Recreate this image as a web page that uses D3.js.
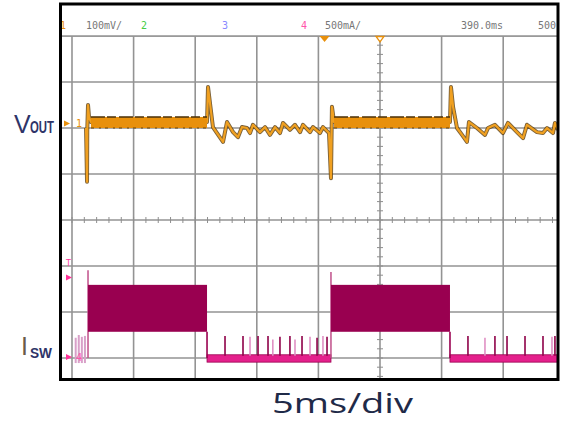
<!DOCTYPE html>
<html><head><meta charset="utf-8">
<script src="https://cdn.jsdelivr.net/npm/d3@7"></script>
<style>body{margin:0;background:#fff}svg{display:block}</style>
</head><body>
<svg id="c" width="561" height="423"></svg>
<script>
// ---- data (time in ms, amplitude in screen divisions) ----
const timeTicks = [0, 5, 10, 15, 20, 25, 30, 35, 40, 45, 50];
const divTicks = [-4, -3, -2, -1, 0, 1, 2, 3, 4];

// VOUT trace (channel 1, 100mV/div)
const voutT = [1.14, 1.22, 1.24, 1.30, 1.38, 1.54, 10.96, 11.04, 11.2, 11.44, 11.77, 12.26, 12.58, 13.07, 13.47, 13.80, 14.2, 14.45, 14.69, 15.26, 15.67, 16.07, 16.48, 16.88, 17.13, 17.69, 18.1, 18.51, 18.75, 19.32, 19.56, 20.13, 20.37, 20.86, 21.02, 21.1, 21.27, 30.68, 30.76, 30.93, 31.25, 31.66, 32.06, 32.22, 32.87, 33.52, 33.77, 34.33, 34.98, 35.39, 36.12, 36.61, 36.93, 37.74, 38.23, 38.56, 39.04, 39.2, 39.45];
const voutV = [2.0, 0.83, 1.96, 2.5, 2.24, 2.13, 2.13, 2.89, 2.54, 2.02, 1.89, 1.70, 2.13, 1.91, 1.80, 2.02, 2.0, 1.89, 2.07, 1.91, 2.02, 1.85, 2.02, 1.89, 2.11, 1.96, 2.07, 1.91, 2.07, 1.91, 2.02, 1.89, 2.02, 1.89, 0.91, 2.46, 2.13, 2.13, 2.89, 2.46, 2.0, 1.85, 1.70, 2.13, 2.0, 1.85, 2.0, 2.07, 1.89, 2.11, 1.91, 1.78, 2.07, 1.91, 1.89, 2.0, 1.89, 2.11, 1.96];
const voutBandStart = [1.54, 21.27];
const voutBandEnd = [10.96, 30.68];
const voutBandHi = [2.24, 2.24];
const voutBandLo = [2.0, 2.0];

// ISW trace (channel 4, 500mA/div)
const iswHighStart = [1.3, 21.02];
const iswHighEnd = [10.96, 30.68];
const iswHighTop = [-1.41, -1.41];
const iswHighBottom = [-2.43, -2.43];
const iswEdgeT = [1.3, 21.02];
const iswEdgeV = [-1.09, -1.13];
const iswLowStart = [10.96, 30.68];
const iswLowEnd = [21.02, 39.6];
const iswLowTop = [-2.93, -2.93];
const iswLowBottom = [-3.09, -3.09];
const iswSpikeT = [12.42, 13.88, 14.45, 15.1, 15.91, 16.3, 16.88, 17.69, 18.1, 18.67, 19.32, 19.89, 20.37, 20.7, 32.14, 33.52, 34.33, 35.31, 36.77, 38.23, 38.96, 39.2];
const iswSpikeV = [-2.52, -2.52, -2.54, -2.52, -2.52, -2.6, -2.54, -2.52, -2.6, -2.52, -2.54, -2.56, -2.52, -2.54, -2.52, -2.56, -2.52, -2.52, -2.52, -2.52, -2.54, -2.52];
const iswSpikeLight = [false, false, true, false, false, true, false, false, true, false, true, false, true, false, false, true, false, false, false, false, true, false];
const iswPreT = [0.3, 0.55, 0.8, 1.05];
const iswPreV = [-2.56, -2.5, -2.54, -2.52];

// header readouts
const headerText = ["1", "100mV/", "2", "3", "4", "500mA/", "390.0ms", "500"];
const headerColor = ["#e8900c", "#777", "#44cc44", "#8888ff", "#ff55aa", "#777", "#777", "#777"];
const headerX = [60, 86, 141, 222, 301, 325, 461, 538];

// ---- drawing ----
const svg = d3.select("#c");
const x = d3.scaleLinear().domain([0, 50]).range([72, 72 + 10 * 61.6]);
const y = d3.scaleLinear().domain([-4, 4]).range([404, 36]);

const defs = svg.append("defs");
defs.append("clipPath").attr("id", "plot").append("rect")
  .attr("x", 62).attr("y", 36).attr("width", 495).attr("height", 342);
defs.append("clipPath").attr("id", "head").append("rect")
  .attr("x", 58).attr("y", 5).attr("width", 499).attr("height", 31);

const plot = svg.append("g").attr("clip-path", "url(#plot)");

// grid
plot.selectAll("line.gv").data(timeTicks).join("line").attr("class", "gv")
  .attr("x1", d => x(d)).attr("x2", d => x(d)).attr("y1", 36).attr("y2", 380)
  .attr("stroke", "#939393").attr("stroke-width", 1.6);
plot.selectAll("line.gh").data(divTicks).join("line").attr("class", "gh")
  .attr("x1", 62).attr("x2", 560).attr("y1", d => y(d)).attr("y2", d => y(d))
  .attr("stroke", "#939393").attr("stroke-width", 1.6);
svg.append("line").attr("x1", 62).attr("x2", 558).attr("y1", y(4)).attr("y2", y(4))
  .attr("stroke", "#939393").attr("stroke-width", 1.6);
// minor ticks on centre lines
const vMinor = d3.range(-20, 21).map(i => i / 5);
const tMinor = d3.range(0, 51);
plot.selectAll("line.mv").data(vMinor).join("line").attr("class", "mv")
  .attr("x1", x(25) - 3).attr("x2", x(25) + 3).attr("y1", d => y(d)).attr("y2", d => y(d))
  .attr("stroke", "#8e8e8e").attr("stroke-width", 1);
plot.selectAll("line.mt").data(tMinor).join("line").attr("class", "mt")
  .attr("y1", y(0) - 3).attr("y2", y(0) + 3).attr("x1", d => x(d)).attr("x2", d => x(d))
  .attr("stroke", "#8e8e8e").attr("stroke-width", 1);

// ISW
const isw = plot.append("g");
isw.selectAll("line.pre").data(iswPreT).join("line").attr("class", "pre")
  .attr("x1", d => x(d)).attr("x2", d => x(d))
  .attr("y1", (d, i) => y(iswPreV[i])).attr("y2", y(-3.11))
  .attr("stroke", "#d8a0c8").attr("stroke-width", 2);
isw.selectAll("rect.low").data(iswLowStart).join("rect").attr("class", "low")
  .attr("x", d => x(d)).attr("width", (d, i) => x(iswLowEnd[i]) - x(d))
  .attr("y", (d, i) => y(iswLowTop[i])).attr("height", (d, i) => y(iswLowBottom[i]) - y(iswLowTop[i]))
  .attr("fill", "#e4208c").attr("stroke", "#9a0050").attr("stroke-width", 0.8);
isw.selectAll("line.sp").data(iswSpikeT).join("line").attr("class", "sp")
  .attr("x1", d => x(d)).attr("x2", d => x(d))
  .attr("y1", (d, i) => y(iswSpikeV[i])).attr("y2", y(-2.95))
  .attr("stroke", (d, i) => iswSpikeLight[i] ? "#e090c4" : "#8e0048").attr("stroke-width", 1.6);
isw.selectAll("line.fall").data(iswHighEnd).join("line").attr("class", "fall")
  .attr("x1", d => x(d)).attr("x2", d => x(d))
  .attr("y1", (d, i) => y(iswHighBottom[i])).attr("y2", y(-3.0))
  .attr("stroke", "#9a0050").attr("stroke-width", 1.6);
isw.selectAll("line.edge").data(iswEdgeT).join("line").attr("class", "edge")
  .attr("x1", d => x(d)).attr("x2", d => x(d))
  .attr("y1", (d, i) => y(iswEdgeV[i])).attr("y2", y(-3.0))
  .attr("stroke", "#c0508a").attr("stroke-width", 1.5);
isw.selectAll("rect.high").data(iswHighStart).join("rect").attr("class", "high")
  .attr("x", d => x(d)).attr("width", (d, i) => x(iswHighEnd[i]) - x(d))
  .attr("y", (d, i) => y(iswHighTop[i])).attr("height", (d, i) => y(iswHighBottom[i]) - y(iswHighTop[i]))
  .attr("fill", "#990050");

// VOUT
const vout = plot.append("g");
const pts = voutT.map((t, i) => [t, voutV[i]]);
const line = d3.line().x(d => x(d[0])).y(d => y(d[1]));
vout.append("path").attr("d", line(pts)).attr("fill", "none")
  .attr("stroke", "#5a3a08").attr("stroke-width", 4).attr("stroke-linejoin", "round").attr("opacity", 0.8);
vout.append("path").attr("d", line(pts)).attr("fill", "none")
  .attr("stroke", "#f0a020").attr("stroke-width", 2.2).attr("stroke-linejoin", "round");
vout.selectAll("rect.band").data(voutBandStart).join("rect").attr("class", "band")
  .attr("x", d => x(d)).attr("width", (d, i) => x(voutBandEnd[i]) - x(d))
  .attr("y", (d, i) => y(voutBandHi[i])).attr("height", (d, i) => y(voutBandLo[i]) - y(voutBandHi[i]))
  .attr("fill", "#e8900c");
vout.selectAll("line.btop").data(voutBandStart).join("line").attr("class", "btop")
  .attr("x1", d => x(d)).attr("x2", (d, i) => x(voutBandEnd[i]))
  .attr("y1", (d, i) => y(voutBandHi[i])).attr("y2", (d, i) => y(voutBandHi[i]))
  .attr("stroke", "#4a3008").attr("stroke-width", 1.5).attr("stroke-dasharray", "14 2 9 3");
vout.selectAll("line.bbot").data(voutBandStart).join("line").attr("class", "bbot")
  .attr("x1", d => x(d)).attr("x2", (d, i) => x(voutBandEnd[i]))
  .attr("y1", (d, i) => y(voutBandLo[i])).attr("y2", (d, i) => y(voutBandLo[i]))
  .attr("stroke", "#6a4408").attr("stroke-width", 1).attr("stroke-dasharray", "3 5 2 4");

// left markers
svg.append("path").attr("d", `M64,${y(2.1) - 3} L70,${y(2.1)} L64,${y(2.1) + 3} Z`).attr("fill", "#e8900c");
svg.append("text").attr("x", 76).attr("y", y(2.1) + 4).text("1")
  .attr("font-family", "DejaVu Sans Mono").attr("font-size", 10).attr("fill", "#e8900c");
svg.append("text").attr("x", 66).attr("y", y(-1.0)).text("T")
  .attr("font-family", "DejaVu Sans").attr("font-size", 8).attr("fill", "#ff3399");
svg.append("path").attr("d", `M66,${y(-1.25) - 3} L72,${y(-1.25)} L66,${y(-1.25) + 3} Z`).attr("fill", "#ff3399");
svg.append("path").attr("d", `M66,${y(-2.98) - 3} L72,${y(-2.98)} L66,${y(-2.98) + 3} Z`).attr("fill", "#ff3399");
svg.append("text").attr("x", 76).attr("y", y(-2.98) + 4).text("4")
  .attr("font-family", "DejaVu Sans Mono").attr("font-size", 10).attr("fill", "#ff55aa");

// header
const head = svg.append("g").attr("clip-path", "url(#head)");
head.selectAll("text").data(headerText).join("text")
  .attr("x", (d, i) => headerX[i]).attr("y", 29).text(d => d)
  .attr("font-family", "DejaVu Sans Mono, monospace").attr("font-size", 10)
  .attr("fill", (d, i) => headerColor[i]);
svg.append("path").attr("d", `M${x(20.5) - 5},36 L${x(20.5) + 5},36 L${x(20.5)},42 Z`).attr("fill", "#e8900c");
svg.append("path").attr("d", `M${x(25) - 4},36.5 L${x(25) + 4},36.5 L${x(25)},42 Z`)
  .attr("fill", "#fff").attr("stroke", "#e8900c").attr("stroke-width", 1.3);

// frame
svg.append("path").attr("d", "M60.5,381 L60.5,4 L558,4 L558,379.5 L59,379.5")
  .attr("fill", "none").attr("stroke", "#000").attr("stroke-width", 3);

// channel labels
const lab = svg.append("g").attr("font-family", "Liberation Sans Narrow, Liberation Sans, sans-serif").attr("fill", "#2e3468");
lab.append("text").attr("x", 14).attr("y", 133).attr("font-size", 25).text("V");
lab.append("text").attr("x", 30).attr("y", 133).attr("font-size", 17).attr("font-weight", "bold")
  .attr("textLength", 24).attr("lengthAdjust", "spacingAndGlyphs").text("OUT");
lab.append("text").attr("x", 21).attr("y", 355).attr("font-size", 25).attr("fill", "#6b5a4a").text("I");
lab.append("text").attr("x", 30).attr("y", 358).attr("font-size", 14).attr("font-weight", "bold")
  .attr("textLength", 22).attr("lengthAdjust", "spacingAndGlyphs").text("SW");

// time base label
svg.append("text").attr("x", 272).attr("y", 413).attr("font-size", 27)
  .attr("font-family", "Open Sans, sans-serif").attr("fill", "#1f2a48")
  .attr("textLength", 141).attr("lengthAdjust", "spacingAndGlyphs").text("5ms/div");
</script>
</body></html>
